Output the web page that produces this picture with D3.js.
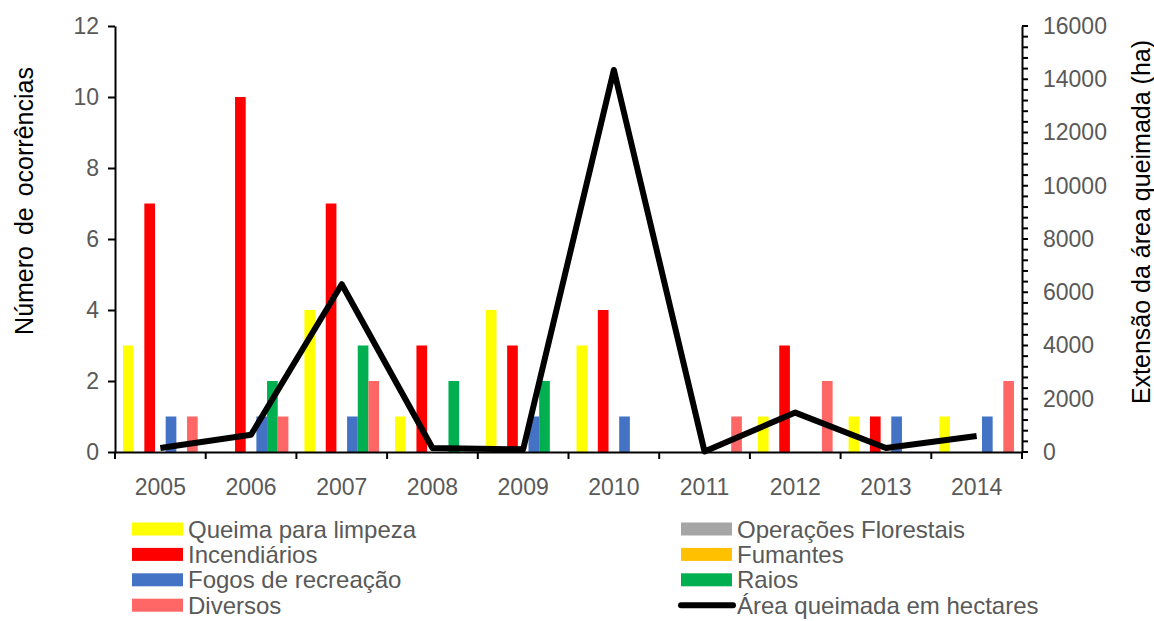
<!DOCTYPE html>
<html>
<head>
<meta charset="utf-8">
<script src="https://cdn.jsdelivr.net/npm/d3@7"></script>
<style>
  html, body { margin: 0; padding: 0; background: #fff; }
  svg { display: block; font-family: "Liberation Sans", Arial, sans-serif; }
</style>
</head>
<body>
<svg id="chart" width="1154" height="621"></svg>
<script>
// Categories (years)
const years = ["2005", "2006", "2007", "2008", "2009", "2010", "2011", "2012", "2013", "2014"];

// Number of occurrences per cause
const queimaLimpeza     = [3, 0, 4, 1, 4, 3, 0, 1, 1, 1];
const operacoesFlorest  = [0, 0, 0, 0, 0, 0, 0, 0, 0, 0];
const incendiarios      = [7, 10, 7, 3, 3, 4, 0, 3, 1, 0];
const fumantes          = [0, 0, 0, 0, 0, 0, 0, 0, 0, 0];
const fogosRecreacao    = [1, 1, 1, 0, 1, 1, 0, 0, 1, 1];
const raios             = [0, 2, 3, 2, 2, 0, 0, 0, 0, 0];
const diversos          = [1, 1, 2, 0, 0, 0, 1, 2, 0, 2];

// Burnt area (ha)
const areaQueimada = [150, 650, 6300, 150, 100, 14350, 20, 1480, 150, 600];

// Axis ticks
const leftTicks = [0, 2, 4, 6, 8, 10, 12];
const rightTicks = [0, 2000, 4000, 6000, 8000, 10000, 12000, 14000, 16000];

const series = [
  { name: "Queima para limpeza",  values: queimaLimpeza,    color: "#FFFF00" },
  { name: "Operações Florestais", values: operacoesFlorest, color: "#A5A5A5" },
  { name: "Incendiários",         values: incendiarios,     color: "#FF0000" },
  { name: "Fumantes",             values: fumantes,         color: "#FFC000" },
  { name: "Fogos de recreação",   values: fogosRecreacao,   color: "#4472C4" },
  { name: "Raios",                values: raios,            color: "#00B050" },
  { name: "Diversos",             values: diversos,         color: "#FF6666" }
];
const lineName = "Área queimada em hectares";

const svg = d3.select("#chart");
const m = { left: 115, right: 1022, top: 26, bottom: 452 };

const x0 = d3.scaleBand().domain(years).range([m.left, m.right]).paddingInner(0).paddingOuter(0);
const x1 = d3.scaleBand().domain(series.map(s => s.name)).range([0, x0.bandwidth()])
  .paddingInner(0).paddingOuter(0.75);
const yL = d3.scaleLinear().domain([0, 12]).range([m.bottom, m.top]);
const yR = d3.scaleLinear().domain([0, 16000]).range([m.bottom, m.top]);

// Bars
const groups = svg.append("g").selectAll("g")
  .data(years).join("g")
  .attr("transform", d => `translate(${x0(d)},0)`);

groups.selectAll("rect")
  .data((d, i) => series.map(s => ({ name: s.name, v: s.values[i], color: s.color })))
  .join("rect")
  .attr("x", d => x1(d.name))
  .attr("width", x1.bandwidth())
  .attr("y", d => yL(d.v))
  .attr("height", d => yL(0) - yL(d.v))
  .attr("fill", d => d.color);

// Burnt area line
const line = d3.line()
  .x((d, i) => x0(years[i]) + x0.bandwidth() / 2)
  .y(d => yR(d));

svg.append("path")
  .datum(areaQueimada)
  .attr("d", line)
  .attr("fill", "none")
  .attr("stroke", "#000")
  .attr("stroke-width", 6)
  .attr("stroke-linejoin", "round")
  .attr("stroke-linecap", "butt");

// Left axis
const gL = svg.append("g")
  .attr("transform", `translate(${m.left},0)`)
  .call(d3.axisLeft(yL).tickValues(leftTicks).tickSize(7).tickPadding(9).tickSizeOuter(0));
gL.select(".domain").attr("stroke", "#000").attr("stroke-width", 2);
gL.selectAll(".tick line").attr("stroke", "#000").attr("stroke-width", 2);
gL.selectAll(".tick text")
  .attr("fill", "#595959").attr("font-size", 23)
  .attr("font-family", "Liberation Sans, Arial, sans-serif");

// Right axis: labelled major ticks plus minor ticks every 400 ha
const gR = svg.append("g")
  .attr("transform", `translate(${m.right},0)`)
  .call(d3.axisRight(yR).tickValues(rightTicks).tickFormat(d3.format("d"))
    .tickSize(0).tickPadding(21).tickSizeOuter(0));
gR.select(".domain").attr("stroke", "#000").attr("stroke-width", 2);
gR.selectAll(".tick text")
  .attr("fill", "#595959").attr("font-size", 23)
  .attr("font-family", "Liberation Sans, Arial, sans-serif");
gR.append("g").selectAll("line")
  .data(d3.range(0, 16001, 400))
  .join("line")
  .attr("x1", 0).attr("x2", 6)
  .attr("y1", d => yR(d)).attr("y2", d => yR(d))
  .attr("stroke", "#000").attr("stroke-width", 2);
gR.append("line")
  .attr("x1", 0).attr("x2", 0)
  .attr("y1", m.bottom).attr("y2", m.bottom + 7)
  .attr("stroke", "#000").attr("stroke-width", 2);

// Bottom axis
const gB = svg.append("g")
  .attr("transform", `translate(0,${m.bottom})`)
  .call(d3.axisBottom(x0).tickSize(0).tickPadding(27).tickSizeOuter(0));
gB.select(".domain").attr("stroke", "#000").attr("stroke-width", 2);
gB.selectAll(".tick text")
  .attr("fill", "#595959").attr("font-size", 23)
  .attr("font-family", "Liberation Sans, Arial, sans-serif");
gB.append("g").selectAll("line")
  .data(years.map(y => x0(y)).concat([m.right]))
  .join("line")
  .attr("x1", d => d).attr("x2", d => d)
  .attr("y1", 0).attr("y2", 7)
  .attr("stroke", "#000").attr("stroke-width", 2);

// Axis titles
svg.append("text")
  .attr("transform", "translate(33,201) rotate(-90)")
  .attr("text-anchor", "middle")
  .attr("font-size", 25)
  .attr("word-spacing", 4)
  .attr("fill", "#000")
  .text("Número de ocorrências");

svg.append("text")
  .attr("transform", "translate(1150,222) rotate(-90)")
  .attr("text-anchor", "middle")
  .attr("font-size", 25)
  .attr("fill", "#000")
  .text("Extensão da área queimada (ha)");

// Legend (two columns, filled row by row)
const legendItems = series.map(s => ({ name: s.name, color: s.color, type: "bar" }))
  .concat([{ name: lineName, color: "#000", type: "line" }]);
const colX = [132, 681];
const rowY0 = 529, rowStep = 25.4;

const lg = svg.append("g").selectAll("g")
  .data(legendItems).join("g")
  .attr("transform", (d, i) => `translate(${colX[i % 2]},${rowY0 + Math.floor(i / 2) * rowStep})`);

lg.filter(d => d.type === "bar").append("rect")
  .attr("x", 0).attr("y", -6.5).attr("width", 51).attr("height", 13)
  .attr("fill", d => d.color);
lg.filter(d => d.type === "line").append("line")
  .attr("x1", 0).attr("x2", 52).attr("y1", 0).attr("y2", 0)
  .attr("stroke", "#000").attr("stroke-width", 6).attr("stroke-linecap", "round");
lg.append("text")
  .attr("x", 56).attr("y", 0).attr("dy", "0.36em")
  .attr("font-size", 24)
  .attr("fill", "#595959")
  .text(d => d.name);
</script>
</body>
</html>
